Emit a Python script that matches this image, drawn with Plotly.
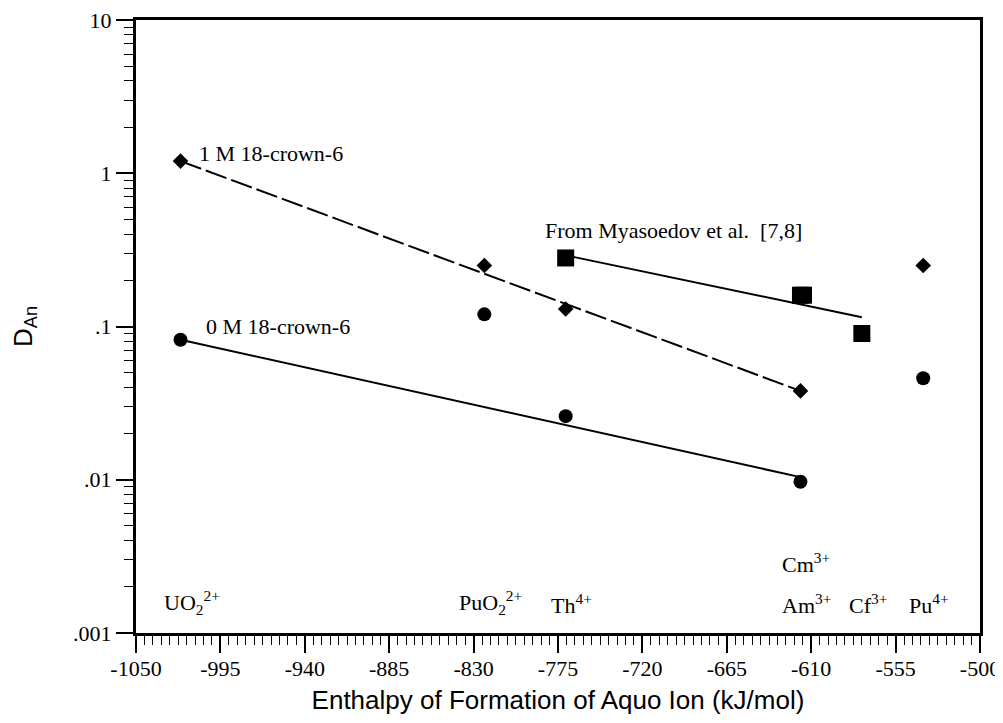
import math
import plotly.graph_objects as go

# ---- data ----
ions_main = ["UO2 2+", "PuO2 2+", "Th4+", "Am3+", "Pu4+"]
dh_main = [-1021, -823, -770, -617, -537]          # kJ/mol
D_1M = [1.2, 0.25, 0.13, 0.038, 0.25]               # 1 M 18-crown-6
D_0M = [0.082, 0.12, 0.026, 0.0097, 0.046]          # 0 M 18-crown-6

ions_myas = ["Th4+", "Am3+", "Cm3+", "Cf3+"]
dh_myas = [-770, -617, -615, -577]
D_myas = [0.28, 0.16, 0.16, 0.09]                   # Myasoedov et al. [7,8]

# fitted trend lines (end points)
fit_1M_x = [-1021, -617]
fit_1M_y = [1.2, 0.038]
fit_0M_x = [-1021, -617]
fit_0M_y = [0.082, 0.0104]
fit_my_x = [-769, -577]
fit_my_y = [0.29, 0.115]

# ion labels shown along the bottom
label_text = ["UO<sub>2</sub><sup>2+</sup>", "PuO<sub>2</sub><sup>2+</sup>",
              "Th<sup>4+</sup>", "Am<sup>3+</sup>", "Cm<sup>3+</sup>",
              "Cf<sup>3+</sup>", "Pu<sup>4+</sup>"]
label_dh = [-1021, -823, -770, -617, -617, -577, -537]
label_row = [0, 0, 0, 0, 1, 0, 0]

x_major = [-1050, -995, -940, -885, -830, -775, -720, -665, -610, -555, -500]
x_major_text = ["-1050", "-995", "-940", "-885", "-830", "-775", "-720",
                "-665", "-610", "-555", "-500"]
y_major = [0.001, 0.01, 0.1, 1, 10]
y_major_text = [".001", ".01", ".1", "1", "10"]

SERIF = "Liberation Serif, Times New Roman, serif"
SANS = "Liberation Sans, Arial, Helvetica, sans-serif"
FS = 22

fig = go.Figure()

fig.add_trace(go.Scatter(x=fit_1M_x, y=fit_1M_y, mode="lines",
                         line=dict(color="black", width=2, dash="22px,5px"),
                         showlegend=False, hoverinfo="skip"))
fig.add_trace(go.Scatter(x=fit_0M_x, y=fit_0M_y, mode="lines",
                         line=dict(color="black", width=2),
                         showlegend=False, hoverinfo="skip"))
fig.add_trace(go.Scatter(x=fit_my_x, y=fit_my_y, mode="lines",
                         line=dict(color="black", width=2),
                         showlegend=False, hoverinfo="skip"))

fig.add_trace(go.Scatter(x=dh_main, y=D_1M, mode="markers", name="1 M 18-crown-6",
                         text=ions_main,
                         marker=dict(symbol="diamond", size=12, color="black"),
                         showlegend=False))
fig.add_trace(go.Scatter(x=dh_main, y=D_0M, mode="markers", name="0 M 18-crown-6",
                         text=ions_main,
                         marker=dict(symbol="circle", size=14, color="black"),
                         showlegend=False))
fig.add_trace(go.Scatter(x=dh_myas, y=D_myas, mode="markers", name="Myasoedov et al.",
                         text=ions_myas,
                         marker=dict(symbol="square", size=17, color="black"),
                         showlegend=False))

annotations = [
    dict(x=-1010, y=math.log10(1.35), xref="x", yref="y", text="1 M 18-crown-6",
         showarrow=False, xanchor="left", yanchor="middle",
         font=dict(family=SERIF, size=FS, color="black")),
    dict(x=-1006, y=math.log10(0.1), xref="x", yref="y", text="0 M 18-crown-6",
         showarrow=False, xanchor="left", yanchor="middle",
         font=dict(family=SERIF, size=FS, color="black")),
    dict(x=-785, y=math.log10(0.425), xref="x", yref="y",
         text="From Myasoedov et al.  [7,8]",
         showarrow=False, xanchor="left", yanchor="middle",
         font=dict(family=SERIF, size=FS, color="black")),
]
for t, xv, row in zip(label_text, label_dh, label_row):
    annotations.append(dict(
        x=xv, y=0.022 + 0.066 * row, xref="x", yref="paper", text=t,
        showarrow=False, xanchor="center", yanchor="bottom",
        xshift=(11 if xv < -1000 else 6),
        font=dict(family=SERIF, size=FS, color="black")))

minor_y = [m * 10 ** e for e in range(-3, 1) for m in range(2, 10)]

# the page adds an 8px body margin, so the figure is 16px smaller than the window
fig.update_layout(
    width=987, height=707,
    margin=dict(l=128, r=15, t=12, b=82),
    paper_bgcolor="white", plot_bgcolor="white",
    annotations=annotations,
    xaxis=dict(
        range=[-1050, -500], tickmode="array", tickvals=x_major, ticktext=x_major_text,
        ticks="outside", ticklen=17, tickwidth=2, tickcolor="black",
        showline=True, linewidth=3, linecolor="black", mirror=True,
        showgrid=False, zeroline=False, automargin=False,
        ticklabeloverflow="allow",
        tickfont=dict(family=SERIF, size=FS, color="black"),
        ticklabelstandoff=-3,
        minor=dict(ticks="outside", ticklen=9, tickwidth=1, tickcolor="black",
                   dtick=5.5, tick0=-1050, showgrid=False),
        title=dict(text="Enthalpy of Formation of Aquo Ion (kJ/mol)",
                   font=dict(family=SANS, size=26, color="black"), standoff=14),
    ),
    yaxis=dict(
        type="log", range=[-3, 1],
        tickmode="array", tickvals=y_major, ticktext=y_major_text,
        ticks="outside", ticklen=17, tickwidth=2, tickcolor="black",
        showline=True, linewidth=3, linecolor="black", mirror=True,
        showgrid=False, zeroline=False, automargin=False,
        ticklabeloverflow="allow",
        tickfont=dict(family=SERIF, size=FS, color="black"),
        minor=dict(ticks="outside", ticklen=9, tickwidth=1, tickcolor="black",
                   tickmode="array", tickvals=minor_y, showgrid=False),
        title=dict(text="D<sub>An</sub>",
                   font=dict(family=SANS, size=26, color="black"), standoff=36),
    ),
)

fig.write_html("out.html")
